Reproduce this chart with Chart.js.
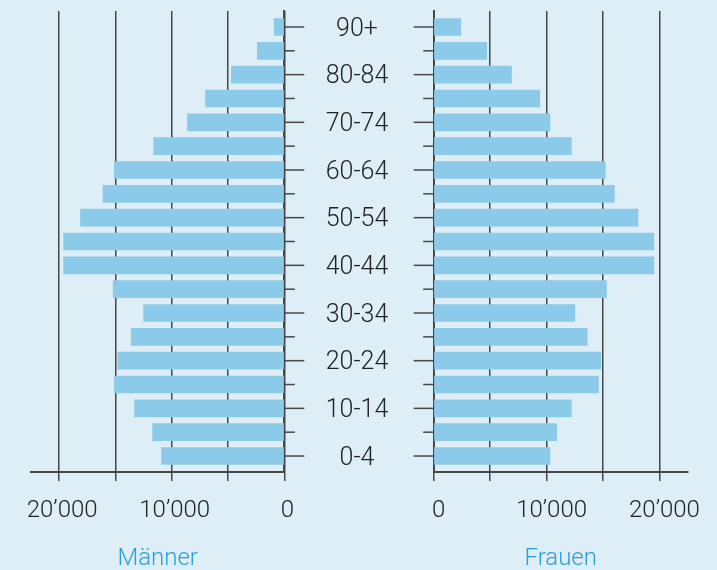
<!DOCTYPE html>
<html>
<head>
<meta charset="utf-8">
<script src="https://cdn.jsdelivr.net/npm/chart.js@4/dist/chart.umd.min.js"></script>
<style>
  html, body { margin: 0; padding: 0; background: #deeef7; }
  body { width: 717px; height: 570px; position: relative; overflow: hidden; }
  #wl { position: absolute; left: 0; top: 0; width: 400px; height: 570px; }
  #wr { position: absolute; left: 400px; top: 0; width: 317px; height: 570px; }
</style>
</head>
<body>
<div id="wl"><canvas id="cl"></canvas></div>
<div id="wr"><canvas id="cr"></canvas></div>
<script>
// ---- data ----
const ageGroups = ['0-4','5-9','10-14','15-19','20-24','25-29','30-34','35-39','40-44','45-49',
                   '50-54','55-59','60-64','65-69','70-74','75-79','80-84','85-89','90+'];
const maenner = [10900,11700,13300,15100,14800,13600,12500,15200,19600,19600,
                 18100,16100,15100,11600,8600,7000,4700,2400,900];
const frauen  = [10300,10900,12200,14600,14800,13600,12500,15300,19500,19500,
                 18100,16000,15200,12200,10300,9400,6900,4700,2400];
const xTickValues  = [0,5000,10000,15000,20000];
const xLabelValues = [0,10000,20000];
const seriesNames = ['Männer','Frauen'];

// ---- styles ----
const BG_BAR = '#8ccaea';
const INK = '#222222';
const AXIS = '#474747';
const TITLE = '#2a9fd9';
const FAM = 'Roboto, "Liberation Sans", sans-serif';
const W = '300';

const fmt = v => v === 0 ? '0' : (v/1000) + '\u2019000';

// measure widest center label to center the labels at x=357
const mctx = document.createElement('canvas').getContext('2d');
mctx.font = W + ' 25px ' + FAM;
const widest = Math.max(...ageGroups.map(l => mctx.measureText(l).width));
const centerPad = 357 - 284.3 - widest/2;

const catTicks = {
  id: 'catTicks',
  afterDraw(chart, args, opts) {
    const s = chart.scales.y, ctx = chart.ctx, ca = chart.chartArea;
    const x0 = opts.side === 'right' ? ca.right : ca.left;
    const dir = opts.side === 'right' ? 1 : -1;
    ctx.save();
    ctx.strokeStyle = AXIS; ctx.lineWidth = 1.5;
    ageGroups.forEach((_, i) => {
      const y = s.getPixelForValue(i);
      const len = i % 2 === 0 ? 20 : 10.5;
      ctx.beginPath(); ctx.moveTo(x0, y); ctx.lineTo(x0 + dir*len, y); ctx.stroke();
    });
    ctx.restore();
  }
};

function xScale(reverse, title, labelOffset) {
  return {
    type: 'linear', reverse, min: 0, max: 22500,
    afterBuildTicks: s => { s.ticks = xTickValues.map(v => ({value: v})); },
    afterFit: s => { s.height = 98; s.paddingLeft = 0; s.paddingRight = 0; },
    grid: { color: AXIS, lineWidth: 1.5, tickLength: 9, tickColor: AXIS, tickWidth: 1.5 },
    border: { display: true, color: AXIS, width: 2 },
    ticks: {
      autoSkip: false, maxRotation: 0, padding: 16, labelOffset,
      color: INK, font: { family: FAM, size: 24, weight: W },
      callback: v => xLabelValues.includes(v) ? fmt(v) : ''
    },
    title: { display: true, text: title, color: TITLE,
             font: { family: FAM, size: 24, weight: W, lineHeight: 1 },
             padding: { top: 0, bottom: -1 } }
  };
}

function yScale(side, showLabels, width) {
  return {
    type: 'linear', position: side, min: -0.67, max: 18.67,
    offset: false,
    afterBuildTicks: s => { s.ticks = ageGroups.map((_, i) => ({value: i})); },
    afterFit: s => { s.width = width; s.paddingTop = 0; s.paddingBottom = 0; },
    grid: { offset: false, drawOnChartArea: false, drawTicks: false },
    border: { display: true, color: AXIS, width: 2 },
    ticks: {
      display: showLabels, autoSkip: false, crossAlign: 'center', padding: centerPad,
      labelOffset: 2.5,
      color: INK, font: { family: FAM, size: 25, weight: W },
      callback: v => (v % 2 === 0) ? ageGroups[v] : ''
    }
  };
}

function makeChart(id, values, name, reverse, side, showLabels, yWidth, padding, labelOffset) {
  return new Chart(document.getElementById(id), {
    type: 'bar',
    data: {
      datasets: [{
        label: name,
        data: values.map((v, i) => ({ x: v, y: i })),
        backgroundColor: BG_BAR,
        borderWidth: 0,
        barThickness: 17
      }]
    },
    options: {
      indexAxis: 'y',
      responsive: true, maintainAspectRatio: false, animation: false,
      layout: { padding },
      plugins: { legend: { display: false }, tooltip: { enabled: false },
                 catTicks: { side } },
      scales: {
        x: xScale(reverse, name, labelOffset),
        y: yScale(side, showLabels, yWidth)
      }
    },
    plugins: [catTicks]
  });
}

makeChart('cl', maenner, seriesNames[0], true, 'right', true, 400 - 284.3,
          { left: 31, top: 11, right: 0, bottom: 0 }, 3);
makeChart('cr', frauen, seriesNames[1], false, 'left', false, 433.7 - 400,
          { left: 0, top: 11, right: 717 - 687.7, bottom: 0 }, 5);
</script>
</body>
</html>
